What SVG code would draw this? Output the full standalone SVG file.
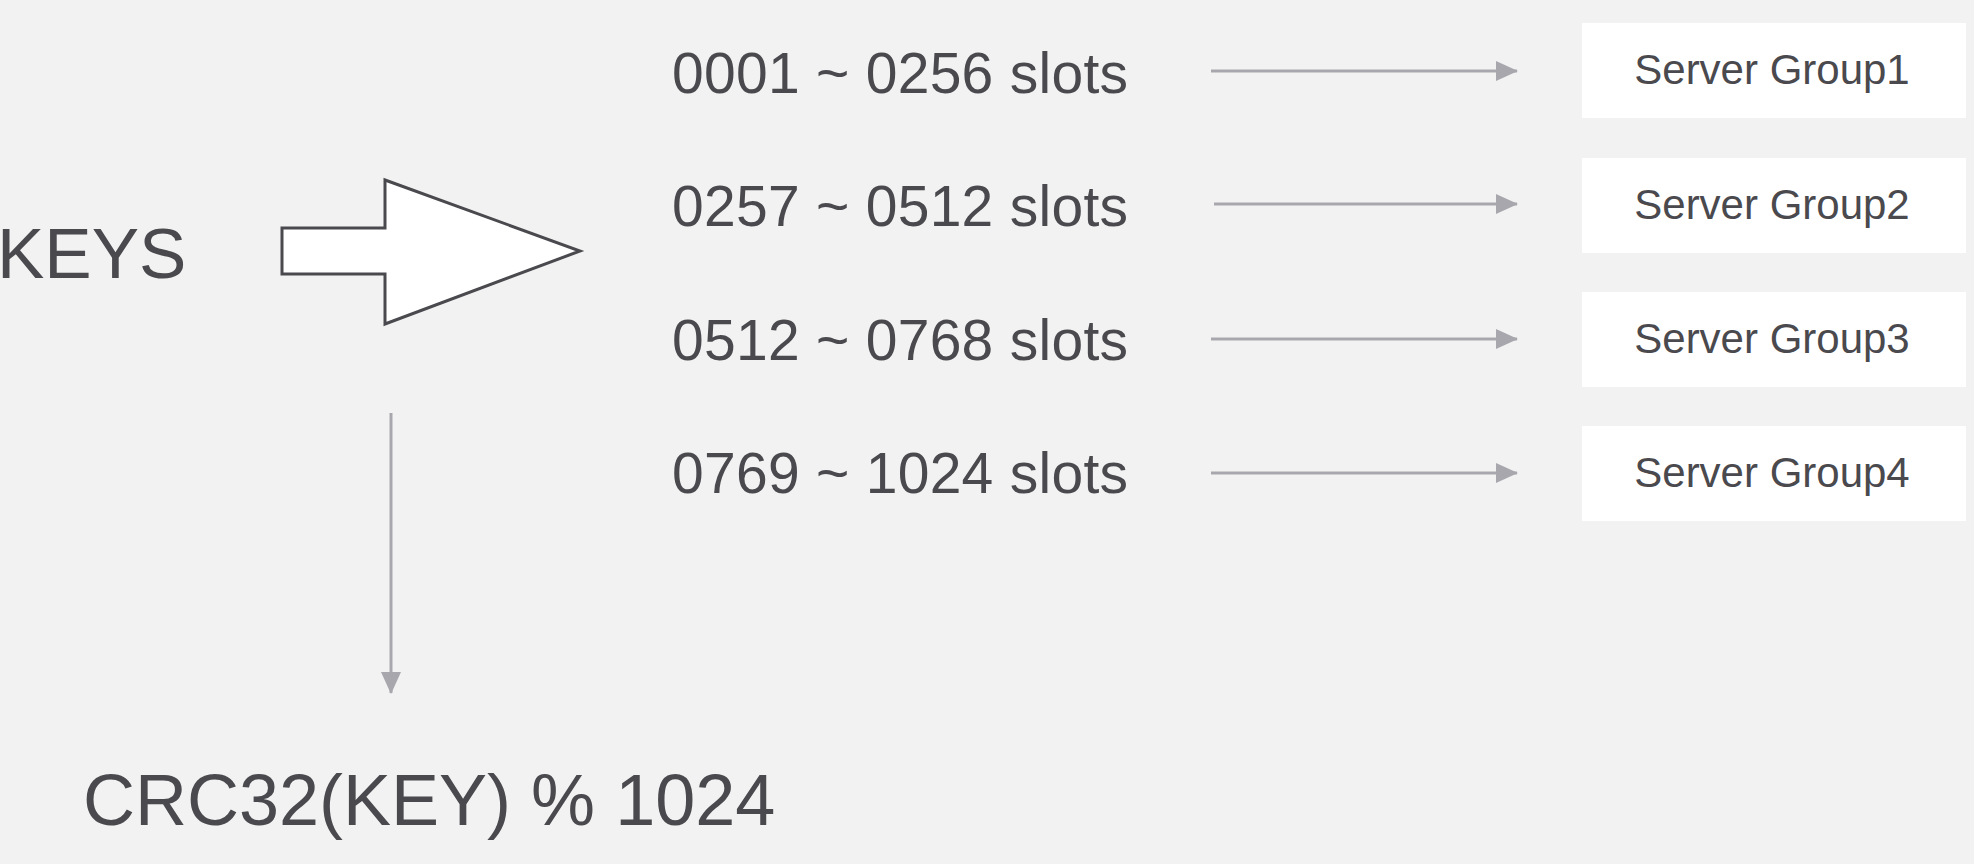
<svg xmlns="http://www.w3.org/2000/svg" width="1974" height="864" viewBox="0 0 1974 864">
<defs>
<style>
.t{font-family:"Liberation Sans",Arial,Helvetica,sans-serif;fill:#4a494e}
.slot{font-size:57px}
.srv{font-size:42px;text-anchor:middle}
.box{fill:#ffffff}
.conn{stroke:#a9a7ae;stroke-width:3;fill:none}
</style>
<marker id="ah" markerUnits="userSpaceOnUse" markerWidth="22" markerHeight="22" viewBox="0 0 22 22" refX="21" refY="11" orient="auto">
<path d="M0,1 L22,11 L0,21 Z" fill="#a9a7ae"/>
</marker>
</defs>
<rect width="1974" height="864" fill="#f2f2f2"/>
<g id="keys">
<text class="t" x="-3" y="278" font-size="71">KEYS</text>
</g>
<g id="bigarrow">
<polygon points="282,228 385,228 385,180 580,251 385,324 385,274 282,274" fill="#ffffff" stroke="#4a494e" stroke-width="3" stroke-linejoin="miter"/>
</g>
<g id="slots1"><text class="t slot" x="672" y="93" textLength="456">0001 ~ 0256 slots</text></g>
<g id="slots2"><text class="t slot" x="672" y="226" textLength="456">0257 ~ 0512 slots</text></g>
<g id="slots3"><text class="t slot" x="672" y="360" textLength="456">0512 ~ 0768 slots</text></g>
<g id="slots4"><text class="t slot" x="672" y="493" textLength="456">0769 ~ 1024 slots</text></g>
<g id="group1"><rect class="box" x="1582" y="23" width="384" height="95"/><text class="t srv" x="1772" y="84">Server Group1</text></g>
<g id="group2"><rect class="box" x="1582" y="158" width="384" height="95"/><text class="t srv" x="1772" y="219">Server Group2</text></g>
<g id="group3"><rect class="box" x="1582" y="292" width="384" height="95"/><text class="t srv" x="1772" y="353">Server Group3</text></g>
<g id="group4"><rect class="box" x="1582" y="426" width="384" height="95"/><text class="t srv" x="1772" y="487">Server Group4</text></g>
<g id="crc"><text class="t" x="83" y="825" font-size="72">CRC32(KEY) % 1024</text></g>
<g id="connectors">
<line class="conn" x1="1211" y1="71" x2="1517" y2="71" marker-end="url(#ah)"/>
<line class="conn" x1="1214" y1="204" x2="1517" y2="204" marker-end="url(#ah)"/>
<line class="conn" x1="1211" y1="339" x2="1517" y2="339" marker-end="url(#ah)"/>
<line class="conn" x1="1211" y1="473" x2="1517" y2="473" marker-end="url(#ah)"/>
<line class="conn" x1="391" y1="413" x2="391" y2="693" marker-end="url(#ah)"/>
</g>
</svg>
